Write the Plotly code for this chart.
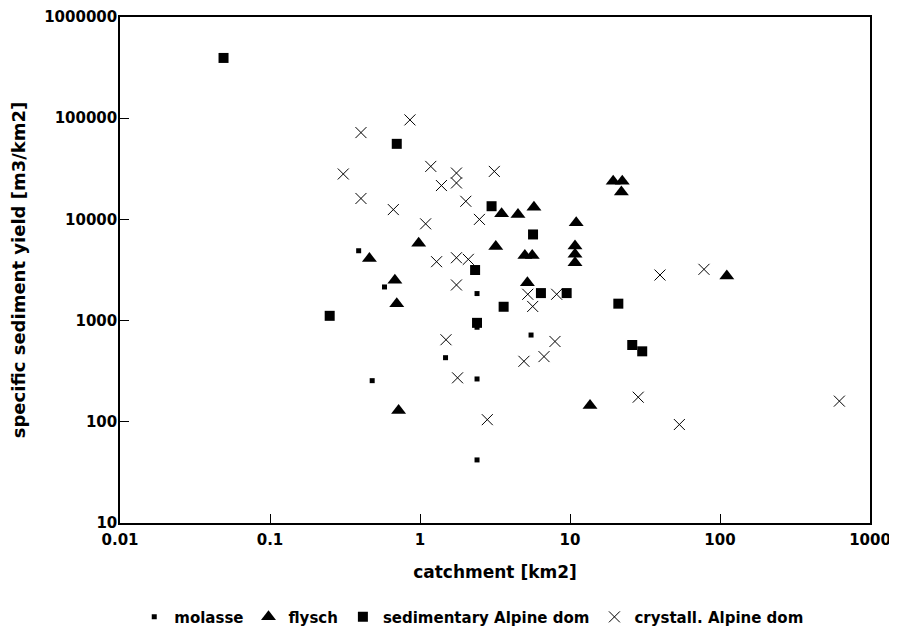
import plotly.graph_objects as go

# ---- data ----
molasse_x = [0.39, 0.58, 0.48, 1.48, 2.4, 2.4, 2.4, 2.4, 5.5]
molasse_y = [4900, 2150, 255, 430, 1850, 860, 265, 42, 720]

flysch_x = [0.46, 0.98, 0.68, 0.70, 0.72, 3.2, 3.5, 4.5, 5.75, 11.0, 10.8, 10.8, 10.8,
            5.0, 5.6, 5.2, 19.4, 22.3, 22.0, 111, 13.6]
flysch_y = [4100, 5800, 2500, 1470, 129, 5400, 11400, 11200, 13200, 9250, 5450, 4520, 3730,
            4400, 4400, 2370, 23800, 23800, 18700, 2760, 145]

sediment_x = [0.049, 0.25, 0.70, 3.0, 5.67, 2.33, 3.61, 6.4, 9.5, 21, 26, 30.3, 2.4]
sediment_y = [394000, 1115, 55800, 13500, 7100, 3160, 1370, 1870, 1870, 1470, 574, 497, 950]

crystall_x = [0.404, 0.857, 0.308, 0.404, 0.664, 1.18, 1.39, 1.09, 1.29, 1.75, 1.75, 3.13,
              2.02, 2.49, 1.75, 2.1, 1.75, 1.49, 1.78, 2.81, 5.23, 5.64, 8.15, 7.94, 6.71,
              4.93, 39.8, 78.2, 28.5, 53.6, 625]
crystall_y = [72100, 96200, 28100, 16100, 12500, 33400, 21600, 9040, 3820, 28700, 22900, 29800,
              15100, 10000, 4180, 4030, 2250, 647, 272, 105, 1820, 1380, 1820, 622, 441,
              396, 2820, 3210, 175, 94, 160]

x_ticks = [0.01, 0.1, 1, 10, 100, 1000]
x_ticktext = ["0.01", "0.1", "1", "10", "100", "1000"]
y_ticks = [10, 100, 1000, 10000, 100000, 1000000]
y_ticktext = ["10", "100", "1000", "10000", "100000", "1000000"]

FONT = "DejaVu Sans"

fig = go.Figure()
fig.add_trace(go.Scatter(x=molasse_x, y=molasse_y, mode="markers", name="molasse",
                         marker=dict(symbol="square", size=5, color="black")))
fig.add_trace(go.Scatter(x=flysch_x, y=flysch_y, mode="markers", name="flysch",
                         marker=dict(symbol="triangle-up", size=13, color="black")))
fig.add_trace(go.Scatter(x=sediment_x, y=sediment_y, mode="markers", name="sedimentary Alpine dom",
                         marker=dict(symbol="square", size=10, color="black")))
fig.add_trace(go.Scatter(x=crystall_x, y=crystall_y, mode="markers", name="crystall. Alpine dom",
                         marker=dict(symbol="x-thin-open", size=11, color="black",
                                     line=dict(width=1, color="black"))))

axis_common = dict(
    type="log", showgrid=False, zeroline=False, automargin=False,
    showline=True, linecolor="black", linewidth=1.5, mirror=True,
    ticks="inside", ticklen=9, tickcolor="black", tickwidth=1,
    ticklabeloverflow="allow",
    tickfont=dict(family=FONT, size=15, color="black", weight="bold"),
)

fig.update_xaxes(**axis_common, range=[-2, 3], tickvals=x_ticks, ticktext=x_ticktext,
                 ticklabelstandoff=2,
                 title=dict(text="catchment [km2]", standoff=18,
                            font=dict(family=FONT, size=17, color="black", weight="bold")))
fig.update_yaxes(**axis_common, range=[1, 6], tickvals=y_ticks, ticktext=y_ticktext,
                 ticklabelstandoff=-2,
                 title=dict(text="specific sediment yield [m3/km2]", standoff=26,
                            font=dict(family=FONT, size=18, color="black", weight="bold")))

# the page body adds an 8px offset, margins compensate for it
fig.update_layout(
    width=897, height=629,
    margin=dict(l=112, r=35, t=9, b=114, autoexpand=False),
    paper_bgcolor="white", plot_bgcolor="white",
    showlegend=True,
    legend=dict(orientation="h", x=0.469, xanchor="center", y=-0.186, yanchor="middle",
                font=dict(family=FONT, size=15, color="black", weight="bold"),
                itemwidth=30, tracegroupgap=0),
)

fig.write_html("out.html")
